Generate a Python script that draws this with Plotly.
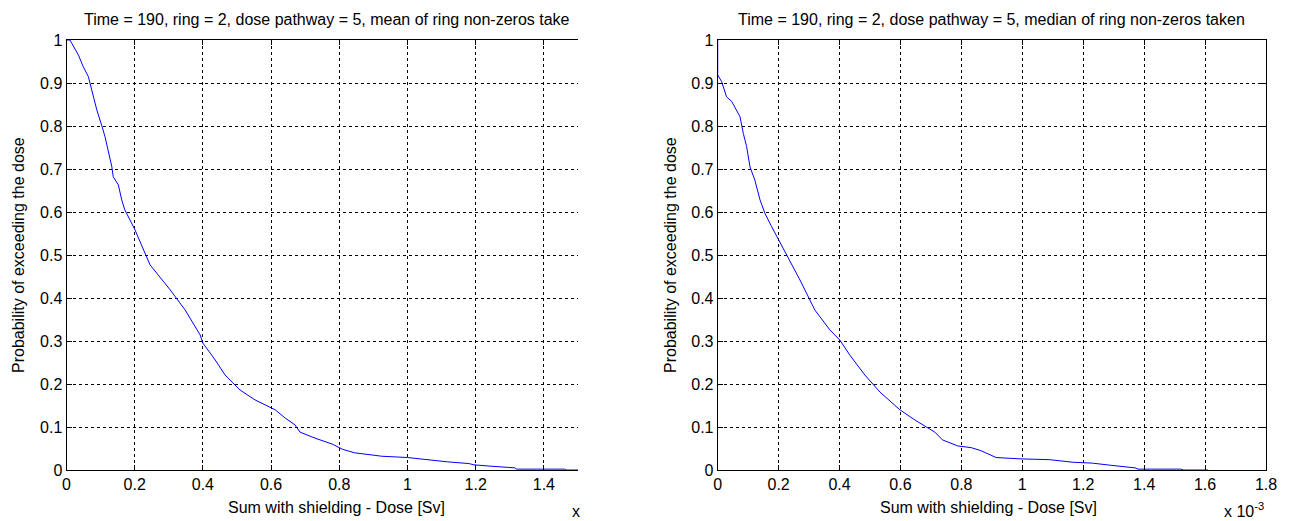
import plotly.graph_objects as go

# Exceedance curve, mean of ring non-zeros (dose in units of 1e-3 Sv)
mean_dose = [0.0, 0.010, 0.035, 0.049, 0.064, 0.079, 0.089, 0.103, 0.113, 0.133, 0.137,
             0.152, 0.162, 0.171, 0.186, 0.200, 0.245, 0.304, 0.348, 0.392, 0.400,
             0.436, 0.465, 0.509, 0.553, 0.582, 0.612, 0.641, 0.670, 0.685, 0.729,
             0.780, 0.810, 0.845, 0.925, 1.000, 1.054, 1.117, 1.180, 1.195, 1.242,
             1.315, 1.320, 1.460, 1.467, 1.500]
mean_prob = [1.0, 1.0, 0.965, 0.938, 0.915, 0.868, 0.837, 0.802, 0.775, 0.705, 0.682,
             0.663, 0.628, 0.605, 0.581, 0.560, 0.477, 0.419, 0.372, 0.314, 0.295,
             0.256, 0.221, 0.186, 0.163, 0.151, 0.140, 0.121, 0.105, 0.088, 0.074,
             0.060, 0.048, 0.040, 0.032, 0.029, 0.024, 0.019, 0.015, 0.012, 0.009,
             0.005, 0.002, 0.002, 0.0, 0.0]

# Exceedance curve, median of ring non-zeros (dose in units of 1e-3 Sv)
median_dose = [0.0, 0.0, 0.013, 0.029, 0.046, 0.062, 0.073, 0.084, 0.095, 0.106, 0.122,
               0.139, 0.155, 0.177, 0.237, 0.270, 0.319, 0.368, 0.401, 0.434, 0.483,
               0.533, 0.598, 0.648, 0.713, 0.738, 0.788, 0.832, 0.864, 0.914, 0.990,
               1.090, 1.166, 1.230, 1.290, 1.370, 1.380, 1.520, 1.530, 1.610]
median_prob = [1.0, 0.919, 0.903, 0.868, 0.857, 0.837, 0.822, 0.783, 0.752, 0.705, 0.674,
               0.628, 0.597, 0.566, 0.488, 0.442, 0.372, 0.326, 0.302, 0.267, 0.221,
               0.181, 0.140, 0.116, 0.088, 0.070, 0.056, 0.052, 0.045, 0.029, 0.026,
               0.024, 0.018, 0.016, 0.011, 0.005, 0.002, 0.002, 0.0, 0.0]

left_title = "Time = 190, ring = 2, dose pathway = 5, mean of ring non-zeros take"
right_title = "Time = 190, ring = 2, dose pathway = 5, median of ring non-zeros taken"
x_label = "Sum with shielding - Dose [Sv]"
y_label = "Probability of exceeding the dose"

W, H = 1291, 521
FONT = dict(family="Liberation Sans, Arial, sans-serif", size=16, color="black")

def px(x):
    return x / W

def py(y):
    return 1 - y / H

fig = go.Figure()
fig.add_trace(go.Scatter(x=mean_dose, y=mean_prob, mode="lines",
                         line=dict(color="#0000ff", width=1), xaxis="x", yaxis="y",
                         showlegend=False))
fig.add_trace(go.Scatter(x=median_dose, y=median_prob, mode="lines",
                         line=dict(color="#0000ff", width=1), xaxis="x2", yaxis="y2",
                         showlegend=False))

ydom = [py(470), py(40)]
common = dict(showline=True, linecolor="black", linewidth=1, ticks="inside", ticklen=5,
              tickcolor="black", showgrid=True, gridcolor="black", gridwidth=1,
              griddash="3px,3px", zeroline=False, tickfont=FONT, automargin=False)

fig.update_layout(
    width=W, height=H, margin=dict(l=0, r=0, t=0, b=0, pad=0),
    paper_bgcolor="white", plot_bgcolor="white", font=FONT,
    xaxis=dict(domain=[px(66.5), px(578)], range=[0, 1.5], tickvals=[0, 0.2, 0.4, 0.6, 0.8, 1.0, 1.2, 1.4],
               ticktext=["0", "0.2", "0.4", "0.6", "0.8", "1", "1.2", "1.4"], mirror="ticks",
               anchor="y", **common),
    yaxis=dict(domain=ydom, range=[0, 1], dtick=0.1, tickformat="~g", mirror=False,
               anchor="x", **common),
    xaxis2=dict(domain=[px(717.7), px(1266)], range=[0, 1.8], dtick=0.2, tickformat="~g",
                mirror="ticks", anchor="y2", **common),
    yaxis2=dict(domain=ydom, range=[0, 1], dtick=0.1, tickformat="~g", mirror="ticks",
                anchor="x2", **common),
)

ann = [
    dict(text=left_title, x=px(82), y=py(20), xanchor="left"),
    dict(text=right_title, x=px(991), y=py(20), xanchor="center"),
    dict(text=x_label, x=px(336), y=py(507), xanchor="center"),
    dict(text=x_label, x=px(989), y=py(507), xanchor="center"),
    dict(text=y_label, x=px(18), y=py(255), xanchor="center", textangle=-90),
    dict(text=y_label, x=px(670), y=py(255), xanchor="center", textangle=-90),
    dict(text="x", x=px(576), y=py(511), xanchor="center"),
    dict(text="x 10<sup>-3</sup>", x=px(1244), y=py(510), xanchor="center"),
]
for a in ann:
    fig.add_annotation(xref="paper", yref="paper", yanchor="middle", showarrow=False,
                       font=FONT, **a)

fig.write_html("out.html")
